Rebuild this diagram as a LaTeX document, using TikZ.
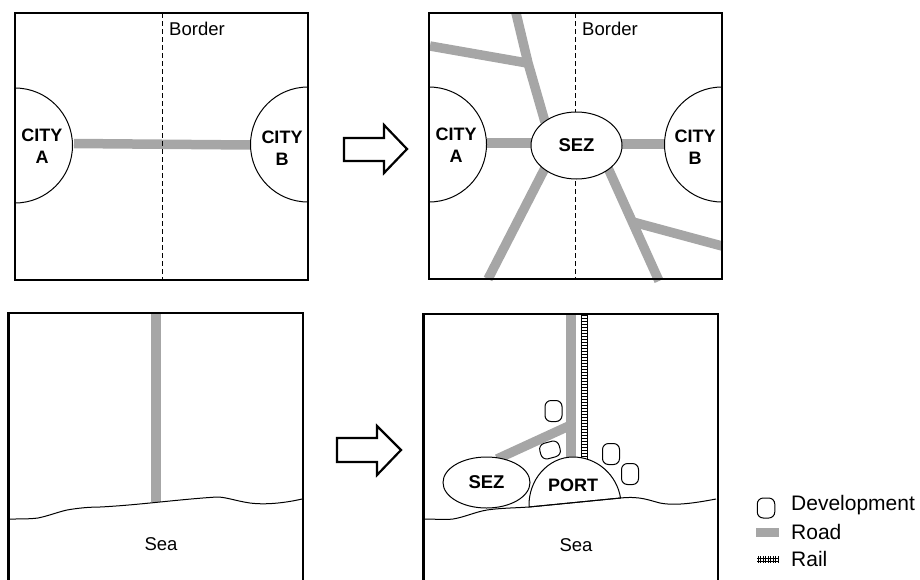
\documentclass[tikz,border=0pt]{standalone}
\usepackage{fontspec}
\setmainfont{Liberation Sans}
\usetikzlibrary{shapes.geometric}
\definecolor{roadgray}{HTML}{A6A6A6}
\tikzset{
  panel/.style={draw=black,line width=2.2pt},
  road/.style={draw=roadgray,line width=9.5pt},
  coast/.style={draw=black,line width=1pt},
  border line/.style={draw=black,line width=1pt,dash pattern=on 5pt off 3pt},
  city/.style={draw=black,fill=white,line width=1pt},
  zone/.style={draw=black,fill=white,line width=1pt,ellipse,inner sep=0pt,font=\bfseries\fontsize{18.5}{18.5}\selectfont},
  cityl/.style={font=\bfseries\fontsize{18}{22}\selectfont,align=center},
  lab/.style={font=\fontsize{18.5}{18.5}\selectfont},
  legend/.style={font=\fontsize{21}{21}\selectfont,anchor=west,inner sep=0pt},
  dev/.style={draw=black,fill=white,line width=1pt,rounded corners=6pt,minimum width=17pt,minimum height=21pt,inner sep=0pt},
  blockarrow/.style={draw=black,fill=white,line width=2.2pt,miter limit=10},
}
\begin{document}
\begin{tikzpicture}[x=1pt,y=-1pt]
\useasboundingbox (0,0) rectangle (920,579);
% panel A
\draw[road] (74,143.5) -- (251,145);
\draw[border line] (162,13) -- (162,280);
\draw[city] (15,88) arc[start angle=-90,end angle=90,radius=57.5];
\draw[city] (308,87) arc[start angle=-90,end angle=-270,radius=57.5];
\node[cityl] (ca1) at (42,146) {CITY\\A};
\node[cityl] (cb1) at (282,148) {CITY\\B};
\node[lab] (b1) at (197,29) {Border};
\draw[panel] (15,13) rectangle (308,280);
% panel B
\draw[border line] (575,13) -- (575,279);
\draw[road] (516,13) -- (528,63) -- (545,122);
\draw[road] (430,46) -- (527,63);
\draw[road] (545,168) -- (488,279);
\draw[road] (608,168) -- (659,281);
\draw[road] (633,222) -- (722,246);
\draw[road] (487,143) -- (535,143);
\draw[road] (618,144) -- (664,144);
\node[zone,minimum width=91pt,minimum height=67pt] (sez2) at (576.5,145.5) {SEZ};
\draw[city] (429,87) arc[start angle=-90,end angle=90,radius=57.5];
\draw[city] (722,87) arc[start angle=-90,end angle=-270,radius=57.5];
\node[cityl] (ca2) at (456,145.5) {CITY\\A};
\node[cityl] (cb2) at (695,147.5) {CITY\\B};
\node[lab] (b2) at (610,29) {Border};
\draw[panel] (429,13) rectangle (722,279);
% arrows
\draw[blockarrow] (344,138) -- (384,138) -- (384,125) -- (407,149) -- (384,173) -- (384,161) -- (344,161) -- cycle;
\draw[blockarrow] (337,438) -- (377,438) -- (377,426) -- (401,450) -- (377,475) -- (377,462) -- (337,462) -- cycle;
% panel C
\draw[road] (156,313) -- (156,502);
\draw[coast] (9,519) .. controls (20,519) and (30,519) .. (38,518) .. controls (48,516) and (58,512) .. (67,510) .. controls (78,508) and (90,507) .. (100,507) .. controls (120,506) and (140,504) .. (160,502) .. controls (180,500) and (200,498) .. (217,497) .. controls (226,497) and (236,501) .. (250,503) .. controls (265,505) and (285,503) .. (302,499);
\node[lab] (s1) at (161,544) {Sea};
\draw[panel] (8.5,313) rectangle (303,584);
% panel D
\draw[road] (571,313) -- (571,459);
\draw[road] (571,425) -- (497,459);
\foreach \y in {315,318,...,459}{\draw[line width=0.9pt] (581,\y) -- (588,\y);}
\draw[line width=0.8pt] (581.5,313) -- (581.5,459.5) (587.5,313) -- (587.5,459.5);
\node[zone,minimum width=87pt,minimum height=51pt] (sez3) at (486.5,482.5) {SEZ};
\draw[city] (529,507) .. controls (528,480) and (548,457) .. (573,457) .. controls (597,457) and (617,475) .. (620.5,498) -- cycle;
\node[font=\bfseries\fontsize{18}{18}\selectfont] (port) at (573,485) {PORT};
\draw[coast] (424,519) .. controls (435,519) and (445,520) .. (453,519) .. controls (465,517) and (475,512) .. (487,510) .. controls (500,508) and (515,508) .. (529,507) -- (620.5,498) .. controls (640,496) and (648,500) .. (660,503) .. controls (675,506) and (695,503) .. (716,499);
\node[lab] (s2) at (576,545) {Sea};
\node[dev] (d1) at (553.5,411) {};
\node[dev,rotate=-75,minimum height=20pt,minimum width=16pt] (d2) at (550,450) {};
\node[dev] (d3) at (611,454) {};
\node[dev] (d4) at (630,474) {};
\draw[panel] (423.5,314) rectangle (718,584);
% legend
\node[dev,minimum width=17.5pt,minimum height=20pt] (ld) at (766,508) {};
\draw[draw=roadgray,line width=9pt] (756,532.5) -- (779,532.5);
\draw[line width=0.7pt] (757,558) -- (779,558) (757,561) -- (779,561);
\foreach \x in {758,760.5,...,778}{\draw[line width=0.6pt] (\x,556) -- (\x,563);}
\node[legend] (t1) at (791,505) {Development};
\node[legend] (t2) at (791,532) {Road};
\node[legend] (t3) at (791,559) {Rail};
\end{tikzpicture}
\end{document}
